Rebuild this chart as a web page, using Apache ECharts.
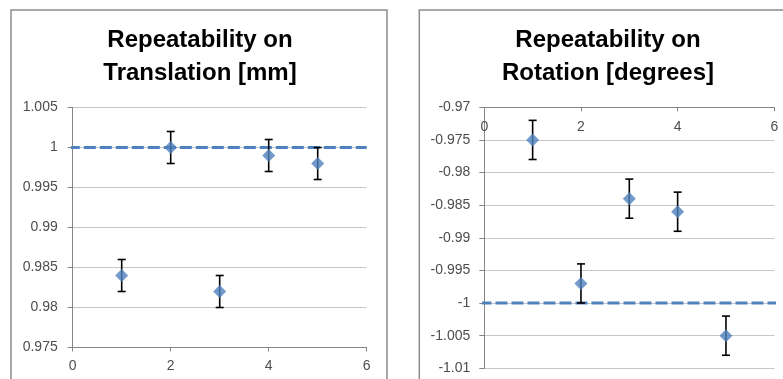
<!DOCTYPE html>
<html>
<head>
<meta charset="utf-8">
<script src="https://cdn.jsdelivr.net/npm/echarts@6/dist/echarts.min.js"></script>
<style>
html,body{margin:0;padding:0;background:#fff;}
#c{width:783px;height:379px;}
</style>
</head>
<body>
<div id="c"></div>
<script>
// ---- data ----
const transX = [1, 2, 3, 4, 5];
const transY = [0.984, 1.000, 0.982, 0.999, 0.998];
const transErr = [0.002, 0.002, 0.002, 0.002, 0.002];
const transRefX = [-0.1, 6];
const transRefY = [1, 1];
const transTicksY = { min: 0.975, max: 1.005, interval: 0.005 };

const rotX = [1, 2, 3, 4, 5];
const rotY = [-0.975, -0.997, -0.984, -0.986, -1.005];
const rotErr = [0.003, 0.003, 0.003, 0.003, 0.003];
const rotRefX = [-0.1, 6.1];
const rotRefY = [-1, -1];
const rotTicksY = { min: -1.01, max: -0.97, interval: 0.005 };

const xTicks = { min: 0, max: 6, interval: 2 };

const titleLeft = ['Repeatability on', 'Translation [mm]'];
const titleRight = ['Repeatability on', 'Rotation [degrees]'];

// ---- styles ----
const BLUE = '#4F81BD';
const AXIS = '#868686';
const GRID = '#c6c6c6';
const LABEL = '#4d4d4d';
const FONT = 'Liberation Sans';

function pts(xs, ys) { return xs.map((x, i) => [x, ys[i]]); }
function errData(xs, ys, es) { return xs.map((x, i) => [x, ys[i] - es[i], ys[i] + es[i]]); }

function errRender(params, api) {
  const x = api.value(0);
  const lo = api.coord([x, api.value(1)]);
  const hi = api.coord([x, api.value(2)]);
  const cap = 4;
  const st = { stroke: '#000', lineWidth: 1.6 };
  return {
    type: 'group',
    children: [
      { type: 'line', shape: { x1: lo[0], y1: lo[1], x2: hi[0], y2: hi[1] }, style: st },
      { type: 'line', shape: { x1: lo[0] - cap, y1: lo[1], x2: lo[0] + cap, y2: lo[1] }, style: st },
      { type: 'line', shape: { x1: hi[0] - cap, y1: hi[1], x2: hi[0] + cap, y2: hi[1] }, style: st }
    ]
  };
}

const chart = echarts.init(document.getElementById('c'), null, { renderer: 'canvas' });

const axisLabelY = { color: LABEL, fontSize: 14, fontFamily: FONT };
const titleStyle = { textAlign: 'center', textVerticalAlign: 'middle', fontSize: 24, fontWeight: 'bold', fontFamily: FONT, fill: '#000' };

chart.setOption({
  animation: false,
  backgroundColor: '#fff',
  grid: [
    { left: 72.7, top: 107.5, width: 294, height: 240 },
    { left: 484.3, top: 107.3, width: 290, height: 261 }
  ],
  xAxis: [
    {
      gridIndex: 0, type: 'value', min: xTicks.min, max: xTicks.max, interval: xTicks.interval,
      axisLine: { show: true, lineStyle: { color: AXIS, width: 1 } },
      axisTick: { show: true, length: 4, lineStyle: { color: AXIS } },
      axisLabel: { color: LABEL, fontSize: 14, fontFamily: FONT, margin: 12 },
      splitLine: { show: false }
    },
    {
      gridIndex: 1, type: 'value', position: 'top', min: xTicks.min, max: xTicks.max, interval: xTicks.interval,
      axisLine: { show: true, onZero: false, lineStyle: { color: AXIS, width: 1 } },
      axisTick: { show: true, inside: true, length: 4, lineStyle: { color: AXIS } },
      axisLabel: { inside: true, color: LABEL, fontSize: 14, fontFamily: FONT, margin: 13 },
      splitLine: { show: false }
    }
  ],
  yAxis: [
    {
      gridIndex: 0, type: 'value', min: transTicksY.min, max: transTicksY.max, interval: transTicksY.interval,
      axisLine: { show: true, lineStyle: { color: AXIS, width: 1 } },
      axisTick: { show: true, length: 5, lineStyle: { color: AXIS } },
      axisLabel: Object.assign({ margin: 15 }, axisLabelY),
      splitLine: { show: true, lineStyle: { color: GRID, width: 1 } }
    },
    {
      gridIndex: 1, type: 'value', min: rotTicksY.min, max: rotTicksY.max, interval: rotTicksY.interval,
      axisLine: { show: true, onZero: false, lineStyle: { color: AXIS, width: 1 } },
      axisTick: { show: true, length: 5, lineStyle: { color: AXIS } },
      axisLabel: Object.assign({ margin: 14 }, axisLabelY),
      splitLine: { show: true, lineStyle: { color: GRID, width: 1 } }
    }
  ],
  graphic: [
    { type: 'rect', shape: { x: 11, y: 10, width: 376, height: 420 }, style: { fill: 'none', stroke: '#8c8c8c', lineWidth: 1.5 }, z: 100 },
    { type: 'rect', shape: { x: 419.3, y: 10, width: 420, height: 420 }, style: { fill: 'none', stroke: '#8c8c8c', lineWidth: 1.5 }, z: 100 },
    { type: 'text', x: 200, y: 40, style: Object.assign({ text: titleLeft[0] }, titleStyle) },
    { type: 'text', x: 200, y: 73, style: Object.assign({ text: titleLeft[1] }, titleStyle) },
    { type: 'text', x: 608, y: 40, style: Object.assign({ text: titleRight[0] }, titleStyle) },
    { type: 'text', x: 608, y: 73, style: Object.assign({ text: titleRight[1] }, titleStyle) }
  ],
  series: [
    {
      type: 'line', xAxisIndex: 0, yAxisIndex: 0, data: pts(transRefX, transRefY), symbol: 'none', clip: false,
      lineStyle: { color: BLUE, width: 3, type: [12, 4] }, z: 2
    },
    {
      type: 'custom', xAxisIndex: 0, yAxisIndex: 0, data: errData(transX, transY, transErr), renderItem: errRender, z: 3
    },
    {
      type: 'scatter', xAxisIndex: 0, yAxisIndex: 0, data: pts(transX, transY), symbol: 'diamond', symbolSize: [13, 13],
      itemStyle: { color: BLUE }, z: 4
    },
    {
      type: 'line', xAxisIndex: 1, yAxisIndex: 1, data: pts(rotRefX, rotRefY), symbol: 'none', clip: false,
      lineStyle: { color: BLUE, width: 3, type: [12, 4] }, z: 2
    },
    {
      type: 'custom', xAxisIndex: 1, yAxisIndex: 1, data: errData(rotX, rotY, rotErr), renderItem: errRender, z: 3
    },
    {
      type: 'scatter', xAxisIndex: 1, yAxisIndex: 1, data: pts(rotX, rotY), symbol: 'diamond', symbolSize: [13, 13],
      itemStyle: { color: BLUE }, z: 4
    }
  ]
});
</script>
</body>
</html>
